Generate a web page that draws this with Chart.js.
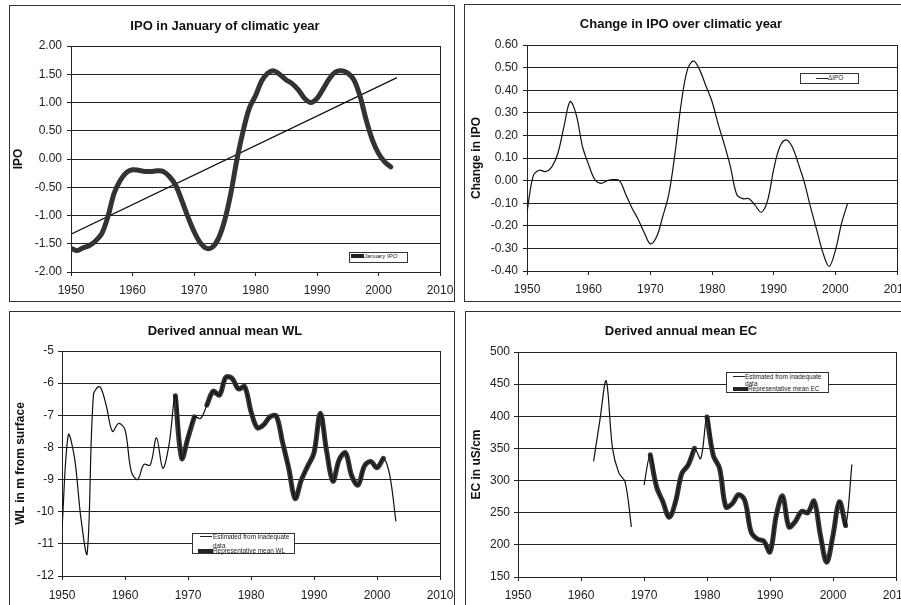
<!DOCTYPE html>
<html>
<head>
<meta charset="utf-8">
<title>IPO, WL and EC</title>
<script src="https://cdn.jsdelivr.net/npm/chart.js@4.4.1/dist/chart.umd.min.js"></script>
<style>
  html, body { margin: 0; padding: 0; background: #fff; overflow: hidden; width: 901px; height: 605px; }
  .panel { position: absolute; border: 1px solid #333; background: #fff; }
  .panel canvas { display: block; }
  .lg { position: absolute; border: 1px solid #333; background: #fff; }
  .sw { position: absolute; background: #222; }
  .lt { position: absolute; font-family: 'Liberation Sans', Arial, sans-serif; color: #222; white-space: nowrap; line-height: 1; }
</style>
</head>
<body>

<div class="panel" style="left:9px;top:5px;width:444px;height:295px"><canvas id="c1" width="444" height="295"></canvas></div>
<div class="panel" style="left:464px;top:4px;width:444px;height:296px"><canvas id="c2" width="444" height="296"></canvas></div>
<div class="panel" style="left:9px;top:311px;width:444px;height:295px"><canvas id="c3" width="444" height="295"></canvas></div>
<div class="panel" style="left:465px;top:311px;width:444px;height:295px"><canvas id="c4" width="444" height="295"></canvas></div>

<!-- legends -->
<div class="lg" style="left:349px;top:252px;width:57px;height:9px"></div>
<div class="sw" style="left:351px;top:254px;width:13px;height:4px"></div>
<div class="lt" style="left:364px;top:253px;font-size:6px">January IPO</div>

<div class="lg" style="left:800px;top:73px;width:57px;height:9px"></div>
<div class="sw" style="left:816px;top:78px;width:12px;height:1px"></div>
<div class="lt" style="left:828px;top:75px;font-size:6.4px">ΔIPO</div>

<div class="lg" style="left:192px;top:533px;width:101px;height:19px"></div>
<div class="sw" style="left:200px;top:536px;width:12px;height:1px"></div>
<div class="lt" style="left:213px;top:534px;font-size:6.4px">Estimated from inadequate</div>
<div class="lt" style="left:213px;top:543px;font-size:6.4px">data</div>
<div class="sw" style="left:198px;top:549px;width:15px;height:4px"></div>
<div class="lt" style="left:213px;top:548px;font-size:6.4px">Representative mean WL</div>

<div class="lg" style="left:726px;top:372px;width:101px;height:19px"></div>
<div class="sw" style="left:733px;top:376px;width:12px;height:1px"></div>
<div class="lt" style="left:745px;top:374px;font-size:6.4px">Estimated from inadequate</div>
<div class="lt" style="left:745px;top:381px;font-size:6.4px">data</div>
<div class="sw" style="left:733px;top:387px;width:15px;height:4px"></div>
<div class="lt" style="left:748px;top:386px;font-size:6.4px">Representative mean EC</div>

<script>
// Years (climatic years)
const ipoYears = [1950, 1951, 1952, 1953, 1954, 1955, 1956, 1957, 1958, 1959,
    1960, 1961, 1962, 1963, 1964, 1965, 1966, 1967, 1968, 1969,
    1970, 1971, 1972, 1973, 1974, 1975, 1976, 1977, 1978, 1979,
    1980, 1981, 1982, 1983, 1984, 1985, 1986, 1987, 1988, 1989,
    1990, 1991, 1992, 1993, 1994, 1995, 1996, 1997, 1998, 1999,
    2000, 2001, 2002];
const wlYears = ipoYears.concat([2003]);
const ecYears = [1962, 1963, 1964, 1965, 1966, 1967, 1968, 1969,
    1970, 1971, 1972, 1973, 1974, 1975, 1976, 1977, 1978, 1979,
    1980, 1981, 1982, 1983, 1984, 1985, 1986, 1987, 1988, 1989,
    1990, 1991, 1992, 1993, 1994, 1995, 1996, 1997, 1998, 1999,
    2000, 2001, 2002, 2003];

// IPO in January
const ipoJanuary = [-1.58, -1.62, -1.57, -1.53, -1.45, -1.32, -1.02, -0.61, -0.38, -0.24,
    -0.19, -0.20, -0.22, -0.22, -0.21, -0.22, -0.31, -0.46, -0.73, -1.02,
    -1.28, -1.48, -1.58, -1.56, -1.40, -1.08, -0.60, 0.00, 0.50, 0.90,
    1.12, 1.38, 1.52, 1.56, 1.49, 1.40, 1.33, 1.22, 1.07, 1.00,
    1.07, 1.24, 1.42, 1.54, 1.56, 1.52, 1.40, 1.11, 0.69, 0.34,
    0.10, -0.05, -0.14];
// linear trend of January IPO (end points)
const trendYears = [1950, 2003];
const trendValues = [-1.33, 1.44];

// change in IPO over the climatic year
const ipoChange = [-0.14, 0.02, 0.046, 0.04, 0.06, 0.12, 0.24, 0.35, 0.29, 0.15,
    0.07, 0.005, -0.012, 0.0, 0.004, 0.0, -0.06, -0.12, -0.17, -0.23,
    -0.28, -0.25, -0.16, -0.06, 0.12, 0.34, 0.49, 0.53, 0.49, 0.42,
    0.35, 0.25, 0.16, 0.06, -0.06, -0.08, -0.08, -0.11, -0.14, -0.09,
    0.05, 0.15, 0.18, 0.15, 0.075, -0.01, -0.12, -0.22, -0.32, -0.38,
    -0.31, -0.19, -0.10];

// water level, m from surface
const wlEstimated = [-10.52, -7.61, -8.34, -10.2, -11.3, -6.35, -6.11, -6.68, -7.5, -7.25,
    -7.45, -8.75, -9.0, -8.53, -8.55, -7.7, -8.65, -7.9, -6.39, -8.34,
    -7.7, -7.05, -7.1, -6.68, -6.25, -6.37, -5.82, -5.85, -6.18, -6.11,
    -6.88, -7.39, -7.3, -7.05, -7.02, -7.83, -8.66, -9.59, -9.01, -8.58,
    -8.17, -6.94, -8.11, -9.05, -8.38, -8.17, -8.89, -9.17, -8.58, -8.44,
    -8.63, -8.34, -8.84, -10.3];
const wlRepresentative = [null, null, null, null, null, null, null, null, null, null,
    null, null, null, null, null, null, null, null, -6.39, -8.34,
    -7.7, -7.05, null, -6.68, -6.25, -6.37, -5.82, -5.85, -6.18, -6.11,
    -6.88, -7.39, -7.3, -7.05, -7.02, -7.83, -8.66, -9.59, -9.01, -8.58,
    -8.17, -6.94, -8.11, -9.05, -8.38, -8.17, -8.89, -9.17, -8.58, -8.44,
    -8.63, -8.34, null, null];

// electrical conductivity, uS/cm
const ecEstimated = [330, 394, 455, 350, 312, 298, 228, null,
    293, 340, 290, 267, 243, 267, 311, 324, 350, 334,
    399, 339, 319, 259, 264, 278, 269, 220, 209, 206,
    189, 246, 276, 228, 236, 252, 250, 268, 215, 173,
    215, 267, 230, 325];
const ecRepresentative = [null, null, null, null, null, null, null, null,
    null, 340, 290, 267, 243, 267, 311, 324, 350, null,
    399, 339, 319, 259, 264, 278, 269, 220, 209, 206,
    189, 246, 276, 228, 236, 252, 250, 268, 215, 173,
    215, 267, 230, null];

const INK = '#222';
const FONT = "'Liberation Sans', Arial, sans-serif";

function points(xs, ys) {
    return xs.map((x, i) => ({ x: x, y: ys[i] }));
}

function thin(label, xs, ys, tension) {
    return { label: label, data: points(xs, ys), borderColor: '#111', borderWidth: 1.2,
        pointRadius: 0, tension: tension, spanGaps: false };
}

function thick(label, xs, ys) {
    return { label: label, data: points(xs, ys), borderColor: '#333', borderWidth: 5,
        pointRadius: 0, tension: 0.35, spanGaps: false, borderCapStyle: 'round', borderJoinStyle: 'round' };
}

// frame round the plot area
const plotBox = {
    id: 'plotBox',
    beforeDatasetsDraw(chart) {
        const { ctx, chartArea: a } = chart;
        ctx.save();
        ctx.strokeStyle = INK;
        ctx.lineWidth = 1;
        ctx.strokeRect(Math.round(a.left) + 0.5, Math.round(a.top) + 0.5,
            Math.round(a.right - a.left), Math.round(a.bottom - a.top));
        ctx.restore();
    }
};

function makeChart(id, o) {
    return new Chart(document.getElementById(id), {
        type: 'line',
        data: { datasets: o.datasets },
        options: {
            responsive: false,
            animation: false,
            layout: { padding: { left: 0, top: 0, right: o.padRight, bottom: 0 } },
            plugins: {
                legend: { display: false },
                tooltip: { enabled: false },
                title: {
                    display: true, text: o.title, color: '#111',
                    font: { family: FONT, size: 13, weight: 'bold' },
                    padding: { top: o.titleTop, bottom: o.titleBottom }
                }
            },
            scales: {
                x: {
                    type: 'linear', min: 1950, max: 2010,
                    ticks: { stepSize: 10, callback: v => v, padding: o.xPad, color: INK,
                        font: { family: FONT, size: 12 }, maxRotation: 0 },
                    grid: { drawOnChartArea: false, tickLength: 4, color: INK },
                    border: { color: INK },
                    afterFit: s => {
                        s.height = o.xHeight;
                        s.paddingLeft = 0;
                        s.paddingRight = 0;
                    }
                },
                y: {
                    min: o.yMin, max: o.yMax,
                    ticks: { stepSize: o.yStep, callback: o.yFormat, padding: o.yPad, color: INK,
                        font: { family: FONT, size: 12 } },
                    grid: { color: INK, tickLength: 4 },
                    border: { color: INK },
                    title: { display: true, text: o.yTitle, color: '#111',
                        font: { family: FONT, size: 12, weight: 'bold' },
                        padding: { top: o.yTitlePad, bottom: 0 } },
                    afterFit: s => {
                        s.width = o.yWidth;
                        s.paddingTop = 0;
                        s.paddingBottom = 0;
                    }
                }
            }
        },
        plugins: [plotBox]
    });
}

makeChart('c1', {
    title: 'IPO in January of climatic year', titleTop: 12.2, titleBottom: 12.2,
    yTitle: 'IPO', yTitlePad: 1.8, yWidth: 61, padRight: 14, xHeight: 29, xPad: 7, yPad: 5,
    yMin: -2, yMax: 2, yStep: 0.5, yFormat: v => v.toFixed(2),
    datasets: [
        thick('January IPO', ipoYears, ipoJanuary),
        thin('Trend', trendYears, trendValues, 0)
    ]
});

makeChart('c2', {
    title: 'Change in IPO over climatic year', titleTop: 11.2, titleBottom: 13.2,
    yTitle: 'Change in IPO', yTitlePad: 4.8, yWidth: 62, padRight: 12, xHeight: 30, xPad: 7, yPad: 5,
    yMin: -0.4, yMax: 0.6, yStep: 0.1, yFormat: v => v.toFixed(2),
    datasets: [
        thin('ΔIPO', ipoYears, ipoChange, 0.35)
    ]
});

makeChart('c3', {
    title: 'Derived annual mean WL', titleTop: 11.2, titleBottom: 12.2,
    yTitle: 'WL in m from surface', yTitlePad: 3.8, yWidth: 52, padRight: 14, xHeight: 31, xPad: 8, yPad: 4,
    yMin: -12, yMax: -5, yStep: 1, yFormat: v => v,
    datasets: [
        thin('Estimated from inadequate data', wlYears, wlEstimated, 0.35),
        thick('Representative mean WL', wlYears, wlRepresentative)
    ]
});

makeChart('c4', {
    title: 'Derived annual mean EC', titleTop: 11.2, titleBottom: 13.2,
    yTitle: 'EC in uS/cm', yTitlePad: 3.8, yWidth: 52, padRight: 14, xHeight: 30, xPad: 7, yPad: 4,
    yMin: 150, yMax: 500, yStep: 50, yFormat: v => v,
    datasets: [
        thin('Estimated from inadequate data', ecYears, ecEstimated, 0.35),
        thick('Representative mean EC', ecYears, ecRepresentative)
    ]
});
</script>
</body>
</html>
